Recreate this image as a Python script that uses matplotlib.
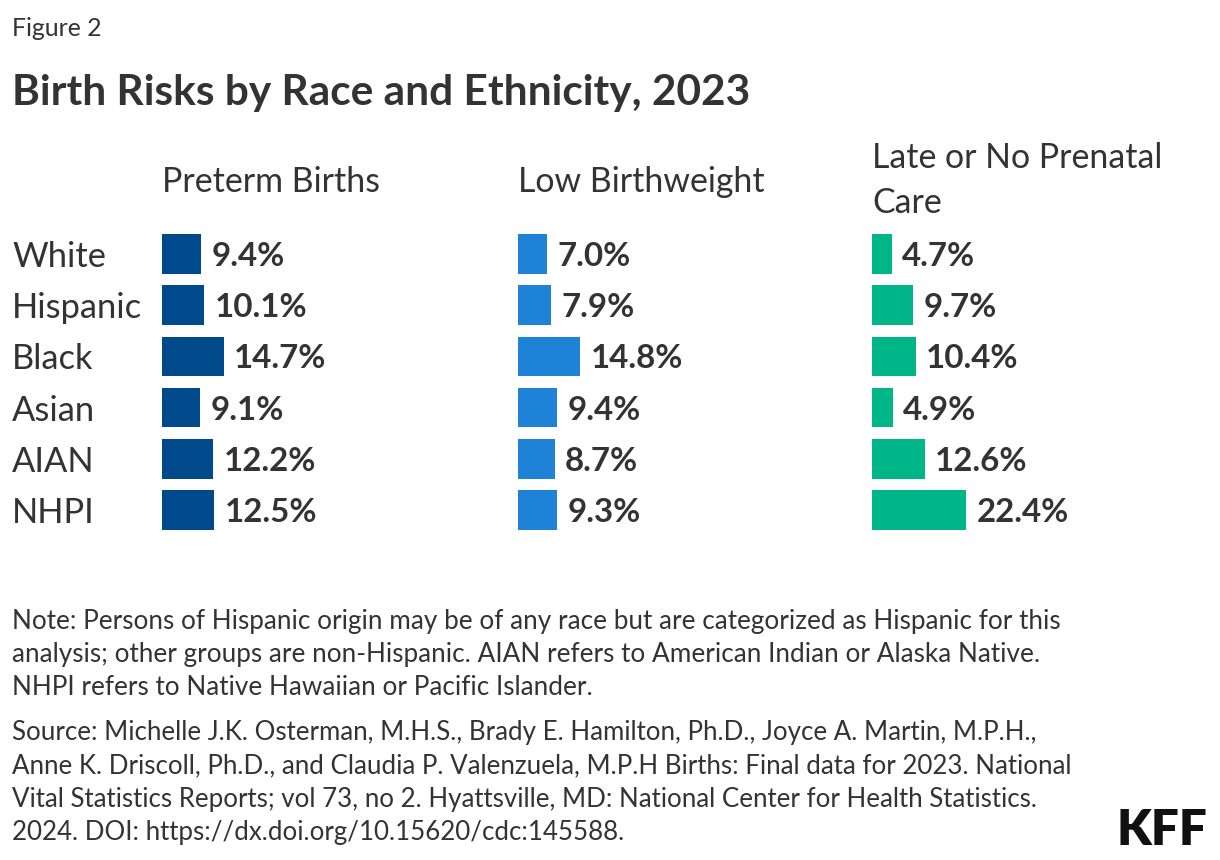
import matplotlib
matplotlib.use("Agg")
import matplotlib.pyplot as plt

# ---- data ----
groups = ["White", "Hispanic", "Black", "Asian", "AIAN", "NHPI"]
panel_titles = ["Preterm Births", "Low Birthweight", "Late or No Prenatal\nCare"]
preterm = [9.4, 10.1, 14.7, 9.1, 12.2, 12.5]
low_birthweight = [7.0, 7.9, 14.8, 9.4, 8.7, 9.3]
late_prenatal = [4.7, 9.7, 10.4, 4.9, 12.6, 22.4]
series = [preterm, low_birthweight, late_prenatal]
colors = ["#00498A", "#1E82D6", "#00B587"]

note_lines = [
    "Note: Persons of Hispanic origin may be of any race but are categorized as Hispanic for this",
    "analysis; other groups are non-Hispanic. AIAN refers to American Indian or Alaska Native.",
    "NHPI refers to Native Hawaiian or Pacific Islander.",
]
source_lines = [
    "Source: Michelle J.K. Osterman, M.H.S., Brady E. Hamilton, Ph.D., Joyce A. Martin, M.P.H.,",
    "Anne K. Driscoll, Ph.D., and Claudia P. Valenzuela, M.P.H Births: Final data for 2023. National",
    "Vital Statistics Reports; vol 73, no 2. Hyattsville, MD: National Center for Health Statistics.",
    "2024. DOI: https://dx.doi.org/10.15620/cdc:145588.",
]

W, H = 1220, 860
FONT = "Lato"
TXT = "#333333"
plt.rcParams["font.family"] = [FONT, "DejaVu Sans"]

fig = plt.figure(figsize=(W / 100, H / 100), dpi=100)
fig.patch.set_facecolor("white")
renderer = fig.canvas.get_renderer()


def fit(s, target_px, weight="normal"):
    t = fig.text(0, 0, s, fontsize=10, fontweight=weight)
    w = t.get_window_extent(renderer).width
    t.remove()
    return 10 * target_px / w


def ftext(x, y, s, **kw):
    return fig.text(x / W, 1 - y / H, s, **kw)


fs_fig = fit("Figure 2", 90)
fs_title = fit("Birth Risks by Race and Ethnicity, 2023", 740, "bold")
fs_head = fit("Preterm Births", 218)
fs_row = fit("Hispanic", 130)
fs_val = fit("22.4%", 93, "bold")
fs_note = fit(note_lines[0], 1046)
fs_src = min(fs_note, fit(source_lines[1], 1056))
fs_kff = fit("KFF", 91, "heavy")

ftext(12, 36, "Figure 2", fontsize=fs_fig, color=TXT, va="baseline")
ftext(12, 105, "Birth Risks by Race and Ethnicity, 2023", fontsize=fs_title,
      fontweight="bold", color=TXT, va="baseline")

# axes geometry (pixels)
px_per_pct = 4.2
lefts = [162, 518, 872]
ax_w = 330
row_h = 51.25
top = 253.8 - row_h / 2
ax_h = row_h * len(groups)

for i, (vals, col, title) in enumerate(zip(series, colors, panel_titles)):
    ax = fig.add_axes([lefts[i] / W, 1 - (top + ax_h) / H, ax_w / W, ax_h / H])
    ax.set_xlim(0, ax_w / px_per_pct)
    ax.set_ylim(len(groups) - 0.5, -0.5)
    ypos = list(range(len(groups)))
    ax.barh(ypos, vals, height=39.5 / row_h, color=col, left=0)
    for y, v in zip(ypos, vals):
        ax.annotate(f"{v:.1f}%", (v, y), xytext=(7.5, 0), textcoords="offset points",
                    va="center_baseline", ha="left", fontsize=fs_val,
                    fontweight="bold", color=TXT)
    ax.axis("off")
    # panel header
    lines = title.split("\n")
    if len(lines) == 1:
        ftext(lefts[i], 192, lines[0], fontsize=fs_head, color=TXT, va="baseline")
    else:
        ftext(lefts[i], 168, lines[0], fontsize=fs_head, color=TXT, va="baseline")
        ftext(lefts[i], 213, lines[1], fontsize=fs_head, color=TXT, va="baseline")

# row labels
for j, g in enumerate(groups):
    yc = top + row_h * (j + 0.5)
    ftext(12, yc, g, fontsize=fs_row, color=TXT, va="center_baseline")

for k, line in enumerate(note_lines):
    ftext(12, 629 + 33 * k, line, fontsize=fs_note, color=TXT, va="baseline")
for k, line in enumerate(source_lines):
    ftext(12, 740 + 33.3 * k, line, fontsize=fs_src, color=TXT, va="baseline")

ftext(1207, 845, "KFF", fontsize=fs_kff, fontweight="heavy", color="#111111",
      ha="right", va="baseline")

fig.savefig("out.png", dpi=100, facecolor="white")
